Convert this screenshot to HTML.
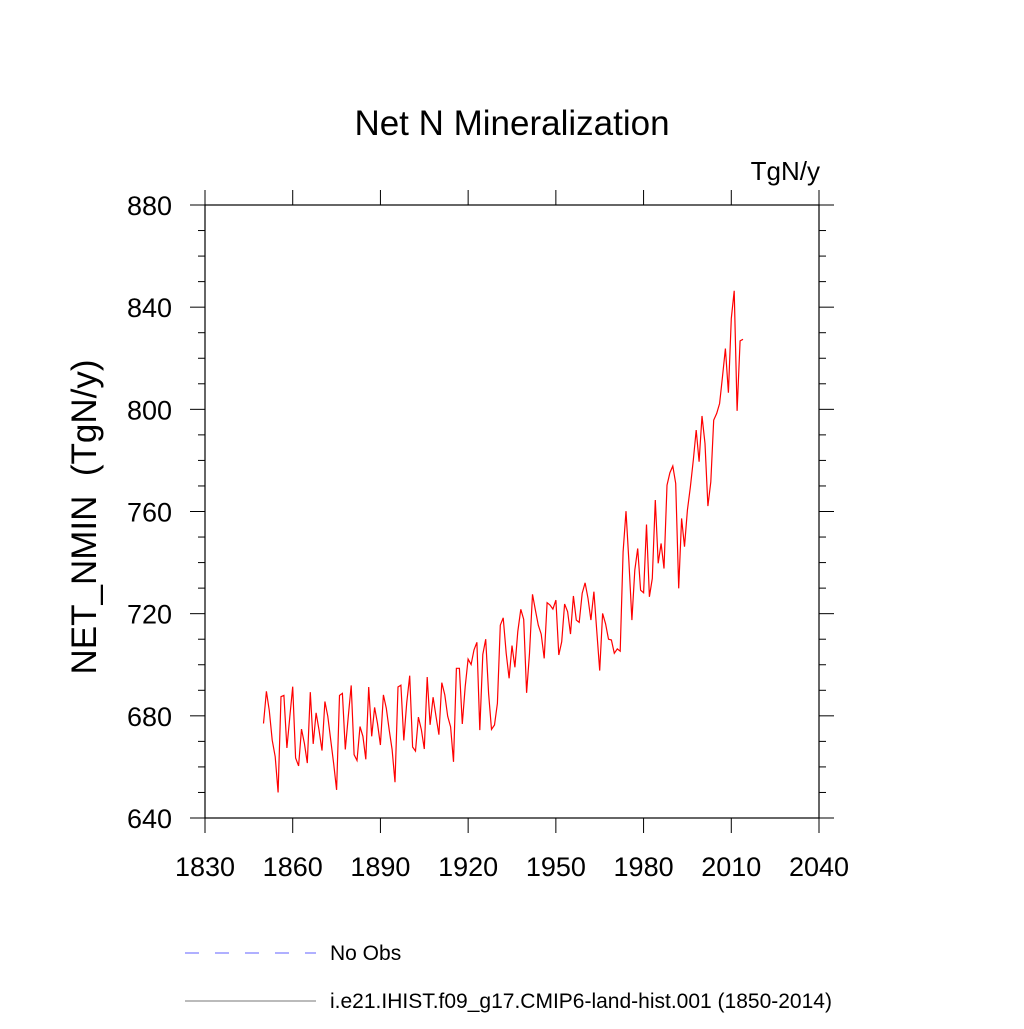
<!DOCTYPE html>
<html><head><meta charset="utf-8"><style>
body{margin:0;background:#fff}
svg text{font-family:"Liberation Sans",sans-serif;fill:#000}
</style></head><body>
<svg id="chart" width="1024" height="1024" xmlns="http://www.w3.org/2000/svg">
<text x="512" y="135" font-size="35" text-anchor="middle">Net N Mineralization</text>
<text x="820" y="180" font-size="26" text-anchor="end">TgN/y</text>
<text transform="translate(96,517) rotate(-90)" font-size="35" text-anchor="middle" style="white-space:pre">NET_NMIN  (TgN/y)</text>
<g id="axes"></g>
<g id="ticks"></g>
<polyline id="series" fill="none" stroke="#ff0000" stroke-width="1.2"/>
<g>
<line x1="185" y1="953" x2="316" y2="953" stroke="#6060ff" stroke-width="1" stroke-dasharray="14,16"/>
<text x="330" y="960" font-size="21">No Obs</text>
<line x1="185" y1="1001" x2="316" y2="1001" stroke="#777" stroke-width="1"/>
<text x="330" y="1008" font-size="21">i.e21.IHIST.f09_g17.CMIP6-land-hist.001 (1850-2014)</text>
</g>
</svg>
<script>
const startYear = 1850;
const values = [677,689.6,682,670.5,664,650,687.5,688,667.4,679.6,691.4,663.5,660.4,674.8,669.2,661.5,689.3,669,681.2,674.5,666.4,685.6,679.8,670.6,661.5,651,688,688.8,666.8,679.8,691.9,664.8,662.5,675.8,672,663,691.3,672,683.3,677,668.6,688.2,683,674.5,666.8,654,691.3,692,670.4,685,695.7,667.8,666.2,679.5,674.5,667,695.2,676.5,687.3,679.8,672.6,693,688.2,679.8,675.7,662,698.6,698.6,676.8,691.4,702.2,700.1,705.8,708.8,674.4,704,710,688.8,674.7,676.4,684.9,715.5,718.4,704.5,694.7,707.5,699,713,721.7,717.8,689,704.5,727.6,721.4,715.5,712,702.5,724.3,723.4,721.8,725.3,703.8,709,723.8,720.8,712,726.9,717.5,716.6,728,732.1,726,717.5,728.6,713,697.7,720.1,716,710,709.7,704.5,706.2,705.3,744.2,760.1,739.7,717.5,737,745.5,729.2,728.2,754.9,726.6,733.8,764.5,739.7,747.5,737.7,770.3,775.2,777.8,771,729.9,757.3,746.2,760.5,769.7,780.1,791.9,779.5,797.4,786.6,762.1,771.6,795.8,798.4,802.3,812.8,823.8,806.5,835.6,846.4,799.4,826.8,827.4];
const xTicks = [1830,1860,1890,1920,1950,1980,2010,2040];
const yTicks = [640,680,720,760,800,840,880];
const X0=205,X1=819,Y0=818,Y1=205;
const xs = v => X0 + (v-1830)/(2040-1830)*(X1-X0);
const ys = v => Y0 - (v-640)/(880-640)*(Y0-Y1);
const NS='http://www.w3.org/2000/svg';
function mk(tag,attrs,parent){const e=document.createElementNS(NS,tag);for(const k in attrs)e.setAttribute(k,attrs[k]);parent.appendChild(e);return e;}
const axes=document.getElementById('axes'), tk=document.getElementById('ticks');
const frame=mk('rect',{x:X0,y:Y1,width:X1-X0,height:Y0-Y1,fill:'none',stroke:'#000','stroke-width':1.2},axes);


xTicks.forEach(t=>{
  const x=xs(t);
  const a=mk('line',{x1:x,y1:Y0,x2:x,y2:Y0+15,stroke:'#000'},tk);
  
  
  const b=mk('line',{x1:x,y1:Y1,x2:x,y2:Y1-15,stroke:'#000'},tk);
  
  
  const l=mk('text',{x:x,y:876,'font-size':27,'text-anchor':'middle'},tk);
  l.textContent=t;
  
  
});
for(let v=640;v<=880;v+=10){
  const y=ys(v), major=(v%40===0), len=major?15:7;
  const a=mk('line',{x1:X0-len,y1:y,x2:X0,y2:y,stroke:'#000'},tk);
  
  
  const b=mk('line',{x1:X1,y1:y,x2:X1+len,y2:y,stroke:'#000'},tk);
  
  
}
yTicks.forEach(t=>{
  const l=mk('text',{x:172,y:ys(t)+10,'font-size':27,'text-anchor':'end'},tk);
  l.textContent=t;
  
  
});
document.getElementById('series').setAttribute('points',values.map((v,i)=>xs(startYear+i).toFixed(1)+','+ys(v).toFixed(1)).join(' '));
</script>
</body></html>
